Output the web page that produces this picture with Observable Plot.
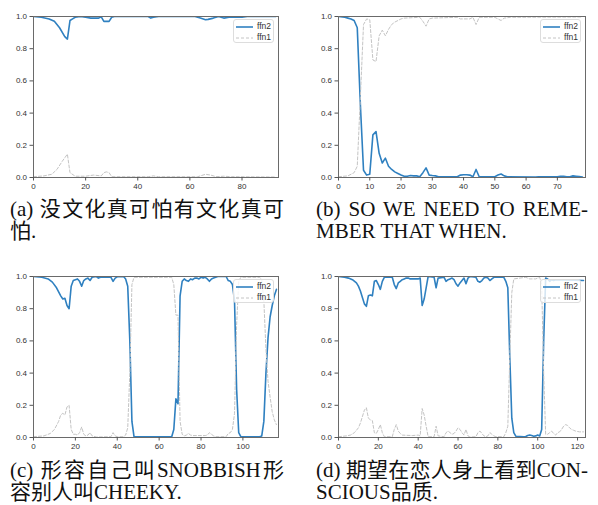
<!DOCTYPE html>
<html><head><meta charset="utf-8">
<script src="https://cdn.jsdelivr.net/npm/d3@7"></script>
<script src="https://cdn.jsdelivr.net/npm/@observablehq/plot@0.6"></script>
<style>
body{margin:0;background:#fff;width:598px;height:505px;position:relative;overflow:hidden}
.panel{position:absolute}
.cap{position:absolute;font-family:"Liberation Serif","Noto Sans CJK SC",serif;font-size:21px;line-height:20px;height:20px;color:#111;white-space:nowrap}
.j{text-align:justify;text-align-last:justify;white-space:normal}
.legend{position:absolute;width:41px;height:24px;background:rgba(255,255,255,0.8);border:1px solid #ddd;border-radius:3px;box-sizing:border-box;font-family:"Liberation Sans",sans-serif;font-size:8.5px;color:#333}
.legend .row{position:absolute;left:2px;height:10px;line-height:10px;white-space:nowrap}
.legend svg{vertical-align:middle;margin-right:4px}
</style></head><body>
<script>
// ---- data: [token index, activation] ----
const yTicks = [0, 0.2, 0.4, 0.6, 0.8, 1.0];

const aLength = 94;
const aTicks = [0, 20, 40, 60, 80];
const aFfn2 = [[0,1.0],[3,0.995],[6,0.985],[8,0.97],[10,0.93],[12,0.875],[13,0.86],[14,0.975],[15,0.985],[16,0.995],[18,1.0],[20,0.995],[22,0.99],[25,0.99],[26,0.998],[27,0.97],[29,0.97],[30,0.995],[31,1.0],[44,1.0],[45,0.99],[46,0.995],[48,1.0],[62,1.0],[64,0.99],[66,0.98],[67,0.982],[69,0.99],[71,1.0],[72,0.995],[73,0.99],[75,0.995],[80,0.995],[82,1.0],[93,1.0]];
const aFfn1 = [[0,0.005],[4,0.01],[7,0.02],[9,0.05],[11,0.1],[13,0.145],[14,0.03],[16,0.008],[20,0.008],[23,0.015],[26,0.01],[27,0.03],[28,0.035],[29,0.03],[30,0.005],[44,0.005],[46,0.01],[48,0.005],[63,0.005],[66,0.02],[68,0.015],[70,0.005],[73,0.008],[76,0.005],[93,0.003]];

const bLength = 79;
const bTicks = [0, 10, 20, 30, 40, 50, 60, 70];
const bFfn2 = [[0,1.0],[2,0.995],[3,0.99],[4,0.985],[5,0.975],[6,0.93],[7,0.45],[8,0.045],[9,0.015],[10,0.02],[11,0.265],[12,0.285],[13,0.15],[14,0.09],[15,0.12],[16,0.07],[17,0.05],[18,0.035],[19,0.025],[20,0.015],[21,0.008],[22,0.008],[23,0.012],[24,0.01],[25,0.01],[26,0.005],[27,0.03],[28,0.06],[29,0.015],[30,0.012],[31,0.01],[32,0.005],[38,0.005],[39,0.015],[40,0.017],[41,0.017],[42,0.015],[43,0.005],[44,0.05],[45,0.005],[50,0.005],[51,0.015],[52,0.022],[53,0.01],[54,0.005],[63,0.003],[64,0.005],[70,0.004],[71,0.008],[72,0.008],[73,0.005],[74,0.005],[75,0.01],[76,0.008],[77,0.006],[78,0.003]];
const bFfn1 = [[0,0.005],[3,0.01],[5,0.03],[6,0.07],[7,0.5],[8,0.95],[9,0.985],[10,0.98],[11,0.73],[12,0.72],[13,0.88],[14,0.915],[15,0.88],[16,0.92],[17,0.95],[18,0.965],[19,0.975],[20,0.985],[21,0.99],[26,0.995],[27,0.97],[28,0.94],[29,0.985],[30,0.99],[38,0.995],[39,0.985],[42,0.985],[43,0.995],[44,0.95],[45,0.995],[50,0.995],[51,0.985],[52,0.975],[53,0.99],[55,0.995],[78,0.997]];

const cLength = 117;
const cTicks = [0, 20, 40, 60, 80, 100];
const cFfn2 = [[0,1.0],[4,0.995],[7,0.985],[9,0.965],[11,0.93],[13,0.88],[14,0.86],[15,0.865],[16,0.82],[17,0.8],[18,0.94],[19,0.975],[20,0.98],[21,0.985],[22,0.97],[23,0.94],[24,0.975],[25,0.985],[26,0.99],[27,0.975],[28,0.995],[30,1.0],[31,0.99],[32,0.995],[37,0.995],[38,0.97],[39,0.99],[40,0.998],[43,1.0],[44,0.985],[45,0.94],[46,0.6],[47,0.1],[48,0.005],[66,0.005],[67,0.05],[68,0.24],[69,0.21],[70,0.88],[71,0.97],[72,0.985],[73,0.975],[74,0.97],[75,0.985],[76,0.98],[77,0.99],[78,0.99],[79,0.985],[80,0.995],[81,0.99],[82,0.995],[83,0.985],[84,0.97],[85,0.985],[86,0.99],[87,0.995],[88,1.0],[92,1.0],[93,0.975],[94,0.97],[95,0.95],[96,0.85],[97,0.3],[98,0.03],[99,0.005],[108,0.005],[109,0.01],[110,0.1],[111,0.4],[112,0.62],[113,0.75],[114,0.82],[115,0.88],[116,0.92]];
const cFfn1 = [[0,0.005],[5,0.01],[8,0.025],[10,0.05],[12,0.1],[13,0.14],[14,0.15],[15,0.14],[16,0.19],[17,0.2],[18,0.05],[19,0.02],[20,0.02],[21,0.015],[22,0.03],[23,0.065],[24,0.02],[25,0.01],[26,0.015],[27,0.03],[28,0.01],[30,0.003],[37,0.005],[38,0.03],[39,0.01],[40,0.005],[43,0.005],[44,0.015],[45,0.06],[46,0.4],[47,0.95],[48,0.995],[66,0.995],[67,0.95],[68,0.76],[69,0.76],[70,0.1],[71,0.02],[72,0.01],[73,0.015],[74,0.025],[75,0.015],[76,0.012],[82,0.012],[83,0.015],[84,0.03],[85,0.02],[86,0.01],[87,0.005],[92,0.005],[93,0.025],[94,0.03],[95,0.05],[96,0.15],[97,0.7],[98,0.97],[99,0.995],[108,0.995],[109,0.98],[110,0.85],[111,0.55],[112,0.35],[113,0.25],[114,0.16],[115,0.11],[116,0.08]];

const dLength = 124;
const dTicks = [0, 20, 40, 60, 80, 100, 120];
const dFfn2 = [[0,1.0],[3,0.995],[5,0.99],[7,0.98],[9,0.96],[10,0.94],[11,0.91],[12,0.87],[13,0.83],[14,0.815],[15,0.88],[16,0.885],[17,0.88],[18,0.97],[19,0.975],[20,0.95],[21,0.92],[22,0.97],[23,0.995],[27,0.995],[28,0.95],[29,0.925],[30,0.96],[31,0.97],[32,0.98],[33,0.985],[34,0.99],[35,0.99],[36,0.985],[40,0.985],[41,0.99],[42,0.82],[43,0.86],[44,0.93],[45,1.0],[48,0.995],[49,0.93],[50,0.99],[53,0.995],[54,0.97],[55,0.98],[56,0.985],[57,0.99],[58,0.98],[59,0.955],[60,0.94],[61,0.96],[62,0.975],[63,0.99],[64,0.955],[65,0.99],[66,1.0],[69,0.995],[70,0.97],[71,0.965],[72,0.975],[73,0.99],[74,0.995],[75,0.99],[76,0.975],[77,0.985],[78,0.995],[83,0.995],[84,0.97],[85,0.93],[86,0.5],[87,0.12],[88,0.03],[89,0.008],[93,0.005],[94,0.006],[95,0.012],[96,0.015],[97,0.012],[98,0.008],[99,0.01],[100,0.015],[101,0.01],[102,0.05],[103,0.6],[104,0.99],[105,0.985],[106,0.97],[107,0.98],[108,0.975],[109,0.98],[123,0.975]];
const dFfn1 = [[0,0.005],[4,0.01],[6,0.015],[8,0.03],[10,0.06],[11,0.09],[12,0.13],[13,0.17],[14,0.185],[15,0.12],[16,0.11],[17,0.105],[18,0.03],[19,0.025],[20,0.05],[21,0.08],[22,0.03],[23,0.005],[27,0.005],[28,0.05],[29,0.08],[30,0.04],[31,0.025],[32,0.015],[37,0.012],[40,0.015],[41,0.01],[42,0.18],[43,0.14],[44,0.07],[45,0.005],[48,0.005],[49,0.07],[50,0.01],[53,0.005],[54,0.03],[55,0.04],[56,0.03],[57,0.02],[58,0.025],[59,0.04],[60,0.06],[61,0.05],[62,0.03],[63,0.015],[64,0.05],[65,0.01],[66,0.003],[69,0.005],[70,0.03],[71,0.04],[72,0.025],[73,0.01],[74,0.005],[75,0.01],[76,0.03],[77,0.02],[78,0.01],[79,0.005],[83,0.005],[84,0.03],[85,0.07],[86,0.5],[87,0.9],[88,0.985],[94,0.995],[96,0.985],[99,0.985],[101,0.995],[102,0.95],[103,0.4],[104,0.02],[105,0.02],[106,0.03],[107,0.04],[108,0.025],[109,0.015],[110,0.03],[111,0.035],[112,0.05],[113,0.07],[114,0.08],[115,0.075],[116,0.06],[117,0.05],[118,0.045],[119,0.04],[121,0.035],[123,0.035]];

const captionA = ["(a) 没文化真可怕有文化真可", "怕."];
const captionB = ["(b) SO WE NEED TO REME-", "MBER THAT WHEN."];
const captionC = ["(c) 形容自己叫SNOBBISH形", "容别人叫CHEEKY."];
const captionD = ["(d) 期望在恋人身上看到CON-", "SCIOUS品质."];
const seriesNames = ["ffn2", "ffn1"];

// ---- layout ----
const BLUE = "#2f80c0", GREY = "#c4c4c4";
const panels = [
  {n: aLength, ticks: aTicks, ffn2: aFfn2, ffn1: aFfn1, cap: captionA, left: 0,   top: 0,   ml: 33, mr: 21, capLeft: 10,  capW: 274, capTop: 199, capStep: 22, lgLeft: 233},
  {n: bLength, ticks: bTicks, ffn2: bFfn2, ffn1: bFfn1, cap: captionB, left: 299, top: 0,   ml: 39, mr: 13, capLeft: 316, capW: 272, capTop: 199, capStep: 22, lgLeft: 540},
  {n: cLength, ticks: cTicks, ffn2: cFfn2, ffn1: cFfn1, cap: captionC, left: 0,   top: 260, ml: 33, mr: 21, capLeft: 10,  capW: 274, capTop: 460, capStep: 22, lgLeft: 233},
  {n: dLength, ticks: dTicks, ffn2: dFfn2, ffn1: dFfn1, cap: captionD, left: 299, top: 260, ml: 39, mr: 13, capLeft: 316, capW: 272, capTop: 460, capStep: 22, lgLeft: 540}
];

for (const p of panels) {
  const chart = Plot.plot({
    width: 299, height: 195,
    marginLeft: p.ml, marginRight: p.mr, marginTop: 16, marginBottom: 18,
    style: {fontFamily: "Liberation Sans, sans-serif", fontSize: "8px", color: "#333", background: "transparent", overflow: "visible"},
    x: {domain: [0, p.n]},
    y: {domain: [0, 1]},
    marks: [
      Plot.line(p.ffn2, {x: d => d[0], y: d => d[1], stroke: BLUE, strokeWidth: 1.6, clip: true}),
      Plot.line(p.ffn1, {x: d => d[0], y: d => d[1], stroke: GREY, strokeWidth: 1, strokeDasharray: "3,2", clip: true}),
      Plot.frame({stroke: "#6a6a6a", strokeWidth: 1}),
      Plot.axisX(p.ticks, {tickSize: 3.5, tickPadding: 2, tickFormat: d => String(d), stroke: "#555", fill: "#333", fontSize: 8, label: null}),
      Plot.axisY(yTicks, {tickSize: 3.5, tickPadding: 3, tickFormat: d3.format(".1f"), stroke: "#555", fill: "#333", fontSize: 8, label: null})
    ]
  });
  chart.classList.add("panel");
  chart.style.left = p.left + "px";
  chart.style.top = p.top + "px";
  document.body.appendChild(chart);

  // legend (matplotlib-style, upper right, semi-transparent)
  const lg = document.createElement("div");
  lg.className = "legend";
  lg.style.left = p.lgLeft + "px";
  lg.style.top = (p.top + 19) + "px";
  const styles = [{stroke: BLUE, w: 1.6, dash: ""}, {stroke: GREY, w: 1, dash: "3,2"}];
  seriesNames.forEach((name, i) => {
    const row = document.createElement("div");
    row.className = "row";
    row.style.top = (1 + i * 11) + "px";
    row.innerHTML = `<svg width="17" height="6"><line x1="0" x2="17" y1="3" y2="3" stroke="${styles[i].stroke}" stroke-width="${styles[i].w}" stroke-dasharray="${styles[i].dash}"/></svg>${name}`;
    lg.appendChild(row);
  });
  document.body.appendChild(lg);

  // caption, first line justified
  const l1 = document.createElement("div");
  l1.className = "cap j";
  l1.style.left = p.capLeft + "px";
  l1.style.width = p.capW + "px";
  l1.style.top = p.capTop + "px";
  l1.textContent = p.cap[0];
  document.body.appendChild(l1);
  const l2 = document.createElement("div");
  l2.className = "cap";
  l2.style.left = p.capLeft + "px";
  l2.style.top = (p.capTop + p.capStep) + "px";
  l2.textContent = p.cap[1];
  document.body.appendChild(l2);
}
</script>
</body></html>
